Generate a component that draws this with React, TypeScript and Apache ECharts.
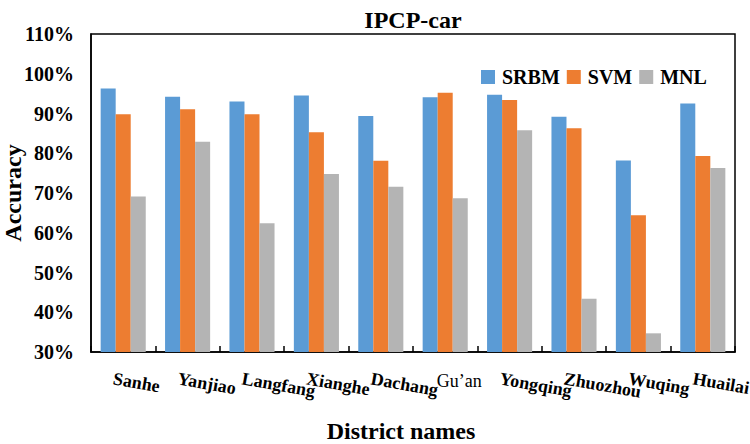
import React, { useEffect, useRef } from "react";
import * as echarts from "echarts";

const districts = ["Sanhe", "Yanjiao", "Langfang", "Xianghe", "Dachang", "Gu\u2019an", "Yongqing", "Zhuozhou", "Wuqing", "Huailai"];
const srbm = [96.3, 94.2, 93.0, 94.5, 89.4, 94.1, 94.7, 89.2, 78.2, 92.5];
const svm = [89.8, 91.1, 89.8, 85.3, 78.1, 95.2, 93.4, 86.3, 64.4, 79.3];
const mnl = [69.1, 82.9, 62.4, 74.8, 71.6, 68.7, 85.8, 43.4, 34.7, 76.3];
const seriesNames = ["SRBM", "SVM", "MNL"];
const colors = ["#5B9BD5", "#ED7D31", "#B4B4B4"];
const yMin = 30;
const yMax = 110;
const yStep = 10;

const FONT = "Liberation Serif";
const SPECIAL = "Gu\u2019an";

export default function App() {
  const ref = useRef<HTMLDivElement>(null);
  useEffect(() => {
    if (!ref.current) return;
    const chart = echarts.init(ref.current, null, { renderer: "svg" });
    const values = [srbm, svm, mnl];
    chart.setOption({
      animation: false,
      backgroundColor: "#fff",
      textStyle: { fontFamily: FONT },
      title: {
        text: "IPCP-car",
        left: 408,
        textAlign: "center",
        top: 3,
        textStyle: { fontFamily: FONT, fontWeight: "bold", fontSize: 24, color: "#000" },
      },
      legend: {
        data: seriesNames,
        left: 476,
        top: 62,
        itemWidth: 14,
        itemHeight: 14,
        itemGap: 7,
        icon: "rect",
        textStyle: { fontFamily: "Times New Roman", fontWeight: "bold", fontSize: 20, color: "#000", padding: [0, 0, 0, 2] },
      },
      grid: {
        left: 91,
        right: 15,
        top: 34,
        bottom: 92,
        show: true,
        borderColor: "#000",
        borderWidth: 1.5,
        containLabel: false,
        outerBoundsMode: "none",
      },
      xAxis: [
        {
          type: "category",
          data: districts,
          name: "District names",
          nameLocation: "middle",
          nameGap: 67,
          nameMoveOverlap: false,
          nameTextStyle: { fontFamily: FONT, fontWeight: "bold", fontSize: 24, color: "#000", padding: [0, 24, 0, 0] },
          axisLine: { lineStyle: { color: "#000", width: 1.5 } },
          axisTick: { show: true, inside: true, length: 6, alignWithLabel: false, lineStyle: { color: "#000", width: 1.5 } },
          axisLabel: {
            rotate: -10,
            margin: 28,
            align: "left",
            padding: [0, 0, 0, -10],
            fontFamily: FONT,
            fontWeight: "bold",
            fontSize: 18,
            color: "#000",
            interval: 0,
            formatter: (v: string) => (v === SPECIAL ? "" : v),
          },
          splitLine: { show: false },
        },
        {
          type: "category",
          data: districts,
          position: "bottom",
          axisLine: { show: false },
          axisTick: { show: false },
          axisLabel: {
            rotate: 0,
            margin: 20,
            align: "center",
            padding: [0, 0, 0, 28],
            fontFamily: FONT,
            fontWeight: "normal",
            fontSize: 18,
            color: "#000",
            interval: 0,
            formatter: (v: string) => (v === SPECIAL ? v : ""),
          },
          splitLine: { show: false },
        },
      ],
      yAxis: {
        type: "value",
        min: yMin,
        max: yMax,
        interval: yStep,
        name: "Accuracy",
        nameLocation: "middle",
        nameGap: 66,
        nameMoveOverlap: false,
        nameTextStyle: { fontFamily: FONT, fontWeight: "bold", fontSize: 24, color: "#000" },
        axisLine: { show: true, lineStyle: { color: "#000", width: 1.5 } },
        axisTick: { show: false },
        splitLine: { show: false },
        axisLabel: {
          formatter: "{value}%",
          margin: 17,
          fontFamily: "serif",
          fontWeight: "bold",
          fontSize: 20,
          color: "#000",
        },
      },
      series: seriesNames.map((name, i) => ({
        name,
        type: "bar",
        xAxisIndex: 0,
        data: values[i],
        barGap: "0%",
        barCategoryGap: "30%",
        itemStyle: { color: colors[i] },
      })),
    });
    return () => chart.dispose();
  }, []);
  return <div ref={ref} style={{ width: 750, height: 444, position: "absolute", left: 0, top: 0 }} />;
}
